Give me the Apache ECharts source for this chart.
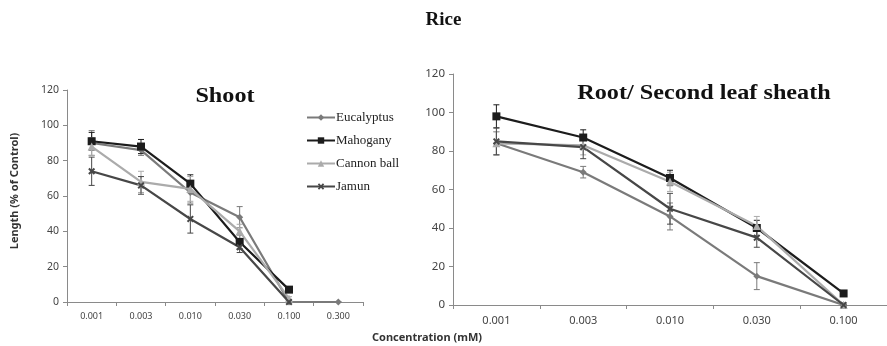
<!DOCTYPE html>
<html>
<head>
<meta charset="utf-8">
<script src="https://cdn.jsdelivr.net/npm/echarts@6/dist/echarts.min.js"></script>
<style>html,body{margin:0;padding:0;background:#fff}#c{width:887px;height:346px}</style>
</head>
<body>
<div id="c"></div>
<script>
// ---- Data ----
const shootCategories = ['0.001', '0.003', '0.010', '0.030', '0.100', '0.300'];
const rootCategories = ['0.001', '0.003', '0.010', '0.030', '0.100'];
const seriesNames = ['Eucalyptus', 'Mahogany', 'Cannon ball', 'Jamun'];
const yTicks = [0, 20, 40, 60, 80, 100, 120];

const shootEucalyptus = [90, 86, 62, 48, 0, 0];
const shootMahogany = [91, 88, 67, 34, 7];
const shootCannon = [88, 68, 64, 40, 2];
const shootJamun = [74, 66, 47, 31, 0];
const shootEucalyptusErr = [7, 3, 6, 6, 1, 0];
const shootMahoganyErr = [5, 4, 5, 4, 1];
const shootCannonErr = [5, 6, 7, 4, 1];
const shootJamunErr = [8, 5, 8, 3, 1];

const rootEucalyptus = [84, 69, 46, 15, 0];
const rootMahogany = [98, 87, 66, 40, 6];
const rootCannon = [84, 83, 64, 41, 0];
const rootJamun = [85, 82, 50, 35, 0];
const rootEucalyptusErr = [6, 3, 7, 7, 0];
const rootMahoganyErr = [6, 4, 4, 4, 1];
const rootCannonErr = [6, 5, 5, 5, 0];
const rootJamunErr = [7, 6, 8, 5, 0];

// ---- Styles ----
const colors = {'Eucalyptus': '#7a7a7a', 'Mahogany': '#1c1c1c', 'Cannon ball': '#ababab', 'Jamun': '#474747'};
const xPath = 'path://M2,0L5,3L8,0L10,2L7,5L10,8L8,10L5,7L2,10L0,8L3,5L0,2Z';
const symbols = {'Eucalyptus': 'diamond', 'Mahogany': 'rect', 'Cannon ball': 'triangle', 'Jamun': xPath};
const symbolSizes = {'Eucalyptus': 7, 'Mahogany': 8, 'Cannon ball': 8, 'Jamun': 7};

function errRender(params, api) {
  const x = api.value(0), lo = api.value(1), hi = api.value(2);
  const p1 = api.coord([x, lo]);
  const p2 = api.coord([x, hi]);
  const w = 3;
  const style = {stroke: api.visual('color'), lineWidth: 1};
  return {type: 'group', children: [
    {type: 'line', shape: {x1: p1[0], y1: p1[1], x2: p2[0], y2: p2[1]}, style: style},
    {type: 'line', shape: {x1: p1[0] - w, y1: p1[1], x2: p1[0] + w, y2: p1[1]}, style: style},
    {type: 'line', shape: {x1: p2[0] - w, y1: p2[1], x2: p2[0] + w, y2: p2[1]}, style: style}
  ]};
}

function lineSeries(name, data, idx) {
  return {
    name: name, type: 'line', data: data, xAxisIndex: idx, yAxisIndex: idx,
    symbol: symbols[name], symbolSize: symbolSizes[name], showSymbol: true,
    itemStyle: {color: colors[name]}, lineStyle: {color: colors[name], width: 2.2},
    z: 3
  };
}
function errSeries(name, data, err, idx) {
  return {
    name: name + ' err' + idx, type: 'custom', xAxisIndex: idx, yAxisIndex: idx,
    renderItem: errRender, itemStyle: {color: colors[name]},
    encode: {x: 0, y: [1, 2]},
    data: data.map((v, i) => [i, Math.max(0, v - err[i]), v + err[i]]),
    z: 2
  };
}

const axisLineStyle = {lineStyle: {color: '#8a8a8a', width: 1}};

function xAx(data, idx, fs) {
  return {
    type: 'category', gridIndex: idx, data: data, boundaryGap: true,
    axisLine: axisLineStyle, axisTick: {show: true, interval: 0, length: 4, lineStyle: {color: '#8a8a8a'}},
    axisLabel: {margin: 10, interval: 0, fontFamily: 'Noto Sans', fontSize: fs, color: '#444'},
    splitLine: {show: false}
  };
}
function yAx(idx, fs) {
  return {
    type: 'value', gridIndex: idx, min: yTicks[0], max: yTicks[yTicks.length - 1], interval: yTicks[1] - yTicks[0],
    axisLine: Object.assign({show: true}, axisLineStyle), axisTick: {show: true, length: 4, lineStyle: {color: '#8a8a8a'}},
    axisLabel: {margin: 8, fontFamily: 'Noto Sans', fontSize: fs, color: '#444'},
    splitLine: {show: false}
  };
}

const chart = echarts.init(document.getElementById('c'));
chart.setOption({
  animation: false,
  backgroundColor: '#fff',
  grid: [
    {left: 67, right: 524, top: 90, bottom: 44},
    {left: 453, right: -3, top: 74, bottom: 41}
  ],
  xAxis: [xAx(shootCategories, 0, 9), xAx(rootCategories, 1, 11)],
  yAxis: [yAx(0, 10.5), yAx(1, 11.5)],
  legend: {
    orient: 'vertical', left: 301, top: 106, itemWidth: 28, itemHeight: 8, itemGap: 10,
    data: seriesNames,
    textStyle: {fontFamily: 'Liberation Serif', fontSize: 13, color: '#222', padding: [0, 0, 0, -4]}
  },
  graphic: [
    {type: 'text', left: 'center', top: 11, style: {text: 'Rice', font: 'bold 19px "Liberation Serif"', fill: '#111'}},
    {type: 'text', x: 225, y: 96, scaleX: 1.1, style: {text: 'Shoot', font: 'bold 22px "Liberation Serif"', fill: '#111', align: 'center', verticalAlign: 'middle'}},
    {type: 'text', x: 704, y: 93, scaleX: 1.1, style: {text: 'Root/ Second leaf sheath', font: 'bold 22px "Liberation Serif"', fill: '#111', align: 'center', verticalAlign: 'middle'}},
    {type: 'text', x: 15, y: 191, rotation: Math.PI / 2, style: {text: 'Length (% of Control)', font: 'bold 11px "Noto Sans"', fill: '#333', align: 'center', verticalAlign: 'middle'}},
    {type: 'text', x: 427, y: 338, style: {text: 'Concentration (mM)', font: 'bold 11px "Noto Sans"', fill: '#333', align: 'center', verticalAlign: 'middle'}}
  ],
  series: [
    errSeries('Eucalyptus', shootEucalyptus, shootEucalyptusErr, 0),
    errSeries('Mahogany', shootMahogany, shootMahoganyErr, 0),
    errSeries('Cannon ball', shootCannon, shootCannonErr, 0),
    errSeries('Jamun', shootJamun, shootJamunErr, 0),
    lineSeries('Eucalyptus', shootEucalyptus, 0),
    lineSeries('Mahogany', shootMahogany, 0),
    lineSeries('Cannon ball', shootCannon, 0),
    lineSeries('Jamun', shootJamun, 0),
    errSeries('Eucalyptus', rootEucalyptus, rootEucalyptusErr, 1),
    errSeries('Mahogany', rootMahogany, rootMahoganyErr, 1),
    errSeries('Cannon ball', rootCannon, rootCannonErr, 1),
    errSeries('Jamun', rootJamun, rootJamunErr, 1),
    lineSeries('Eucalyptus', rootEucalyptus, 1),
    lineSeries('Mahogany', rootMahogany, 1),
    lineSeries('Cannon ball', rootCannon, 1),
    lineSeries('Jamun', rootJamun, 1)
  ]
});
</script>
</body>
</html>
